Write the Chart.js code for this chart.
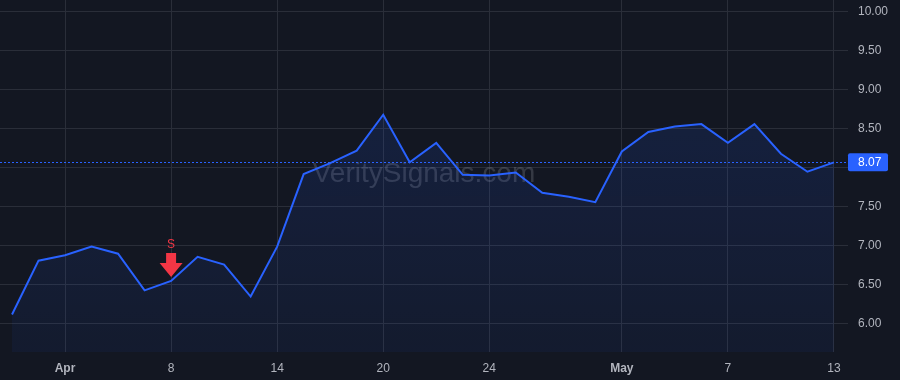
<!DOCTYPE html>
<html><head><meta charset="utf-8">
<script src="https://cdn.jsdelivr.net/npm/chart.js@4/dist/chart.umd.min.js"></script>
<style>html,body{margin:0;padding:0;background:#131722;overflow:hidden}#wrap{width:900px;height:380px}</style>
</head><body><div id="wrap"><canvas id="c" width="900" height="380"></canvas></div>
<script>
// ---- data ----
const prices = [6.12, 6.81, 6.88, 6.99, 6.90, 6.43, 6.55, 6.86, 6.76, 6.35, 6.99, 7.92, 8.06, 8.22, 8.68, 8.07,
                8.32, 7.91, 7.90, 7.94, 7.68, 7.63, 7.56, 8.21, 8.46, 8.53, 8.56, 8.32, 8.56, 8.18, 7.95, 8.07];
const xTickPositions = [2, 6, 10, 14, 18, 23, 27, 31];
const xTickLabels = ['Apr', '8', '14', '20', '24', 'May', '7', '13'];
const monthLabels = ['Apr', 'May'];
const yTickValues = [6.0, 6.5, 7.0, 7.5, 8.0, 8.5, 9.0, 9.5, 10.0];
const lastPrice = 8.07;
const signalIndexes = [6];
const signalTexts = ['S'];
const watermarkText = 'VeritySignals.com';

const FONT = "'Liberation Sans', Arial, sans-serif";
const points = prices.map((v, i) => ({ x: i, y: v }));

const watermarkPlugin = {
  id: 'wm',
  beforeDatasetsDraw(chart) {
    const { ctx } = chart;
    ctx.save();
    ctx.font = '28px ' + FONT;
    ctx.fillStyle = 'rgba(178,181,190,0.22)';
    ctx.textAlign = 'center';
    ctx.textBaseline = 'middle';
    ctx.fillText(watermarkText, 424, 174);
    ctx.restore();
  }
};

const overlayPlugin = {
  id: 'overlay',
  afterDatasetsDraw(chart) {
    const { ctx, chartArea, scales } = chart;
    const y = Math.round(scales.y.getPixelForValue(lastPrice)) + 0.5;
    ctx.save();
    ctx.strokeStyle = '#2962ff';
    ctx.lineWidth = 1;
    ctx.setLineDash([2, 2]);
    ctx.beginPath();
    ctx.moveTo(chartArea.left, y);
    ctx.lineTo(chartArea.right, y);
    ctx.stroke();
    ctx.setLineDash([]);
    signalIndexes.forEach((idx, k) => {
      const px = scales.x.getPixelForValue(idx);
      const py = scales.y.getPixelForValue(prices[idx]);
      const tip = py - 4;
      ctx.fillStyle = '#f23645';
      ctx.beginPath();
      ctx.moveTo(px - 5, tip - 24);
      ctx.lineTo(px + 5, tip - 24);
      ctx.lineTo(px + 5, tip - 14);
      ctx.lineTo(px + 11.5, tip - 14);
      ctx.lineTo(px, tip);
      ctx.lineTo(px - 11.5, tip - 14);
      ctx.lineTo(px - 5, tip - 14);
      ctx.closePath();
      ctx.fill();
      ctx.font = '12px ' + FONT;
      ctx.textAlign = 'center';
      ctx.textBaseline = 'middle';
      ctx.fillText(signalTexts[k], px, tip - 32);
    });
    ctx.restore();
  },
  afterDraw(chart) {
    const { ctx, chartArea, scales } = chart;
    const y = scales.y.getPixelForValue(lastPrice);
    ctx.save();
    ctx.fillStyle = '#2962ff';
    const x0 = chartArea.right, w = 40, h = 18;
    ctx.beginPath();
    if (ctx.roundRect) ctx.roundRect(x0, y - h / 2, w, h, 2); else ctx.rect(x0, y - h / 2, w, h);
    ctx.fill();
    ctx.fillStyle = '#ffffff';
    ctx.font = '12px ' + FONT;
    ctx.textAlign = 'left';
    ctx.textBaseline = 'middle';
    ctx.fillText(lastPrice.toFixed(2), x0 + 10, y + 0.5);
    ctx.restore();
  }
};

function zeroPad(scale) {
  scale.paddingTop = 0; scale.paddingBottom = 0;
  scale.paddingLeft = 0; scale.paddingRight = 0;
}

new Chart(document.getElementById('c'), {
  type: 'line',
  data: {
    datasets: [{
      data: points,
      borderColor: '#2962ff',
      borderWidth: 2,
      pointRadius: 0,
      tension: 0,
      fill: 'start',
      backgroundColor(ctx) {
        const ca = ctx.chart.chartArea;
        if (!ca) return 'rgba(41,98,255,0.1)';
        const g = ctx.chart.ctx.createLinearGradient(0, ca.top, 0, ca.bottom);
        g.addColorStop(0, 'rgba(41,98,255,0.16)');
        g.addColorStop(1, 'rgba(41,98,255,0.06)');
        return g;
      }
    }]
  },
  options: {
    responsive: false,
    devicePixelRatio: 1,
    animation: false,
    layout: { padding: 0 },
    plugins: { legend: { display: false }, tooltip: { enabled: false } },
    scales: {
      x: {
        type: 'linear',
        min: -0.453,
        max: 31.53,
        afterBuildTicks(scale) { scale.ticks = xTickPositions.map(v => ({ value: v })); },
        afterFit(scale) { scale.height = 28; zeroPad(scale); },
        grid: { color: '#2a2e39', drawTicks: false },
        border: { display: false },
        ticks: {
          autoSkip: false,
          maxRotation: 0,
          padding: 9,
          color: '#b2b5be',
          font(ctx) {
            const lbl = xTickLabels[ctx.index];
            return { family: FONT, size: 12, weight: monthLabels.includes(lbl) ? 'bold' : 'normal' };
          },
          callback(value, index) { return xTickLabels[index]; }
        }
      },
      y: {
        position: 'right',
        min: 5.64,
        max: 10.15,
        afterBuildTicks(scale) { scale.ticks = yTickValues.map(v => ({ value: v })); },
        afterFit(scale) { scale.width = 52; zeroPad(scale); },
        grid: { color: '#2a2e39', drawTicks: false },
        border: { display: false },
        ticks: {
          padding: 10,
          color: '#b2b5be',
          font: { family: FONT, size: 12 },
          callback(value) { return Number(value).toFixed(2); }
        }
      }
    }
  },
  plugins: [watermarkPlugin, overlayPlugin]
});
</script>
</body></html>
